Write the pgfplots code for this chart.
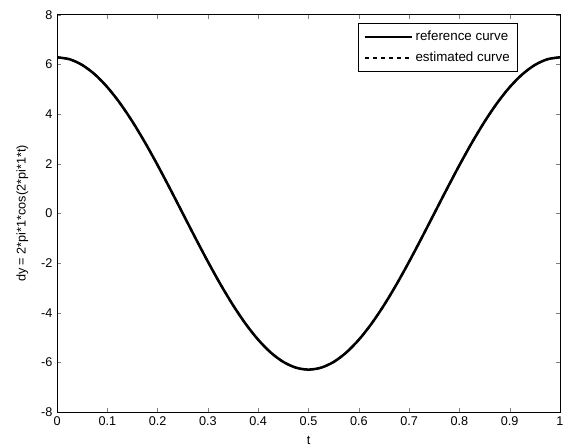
\documentclass[border=0pt]{standalone}
\usepackage{pgfplots}
\pgfplotsset{compat=1.18}
\usepackage{fontspec}
\setmainfont{Liberation Sans}
\begin{document}
\begin{tikzpicture}
\useasboundingbox (-42.75pt,-26pt) rectangle (383pt,309pt);
\begin{axis}[
  at={(0,0)}, anchor=south west,
  scale only axis,
  width=377pt, height=298pt,
  xmin=0, xmax=1, ymin=-8, ymax=8,
  xtick={0,0.1,...,1}, ytick={-8,-6,...,8},
  tick align=inside,
  major tick length=3pt,
  xticklabel style={/pgf/number format/fixed},
  /pgf/number format/assume math mode=true,
  tick label style={font=\fontsize{9.5}{11}\selectfont},
  label style={font=\fontsize{9.5}{11}\selectfont},
  xlabel={t},
  ylabel={dy = 2*pi*1*cos(2*pi*1*t)},
  xlabel style={at={(axis description cs:0.5,-0.07)}, anchor=center},
  ylabel style={at={(axis description cs:-0.069,0.5)}, anchor=center},
  axis line style={line width=0.6pt},
  legend style={at={(0.9165,0.98)}, anchor=north east, draw=black, line width=0.4pt,
    font=\fontsize{10}{12}\selectfont, cells={anchor=west}, inner sep=4pt, row sep=3pt},
  legend image code/.code={\draw[#1, line width=1.2pt] (0cm,0cm) -- (1.25cm,0cm);},
]
\addplot[black, line width=1.9pt, smooth] coordinates {
(0,6.2832)(0.025,6.2058)(0.05,5.9757)(0.075,5.5984)(0.1,5.0832)(0.125,4.4429)(0.15,3.6932)(0.175,2.8525)(0.2,1.9416)(0.225,0.9829)(0.25,0)
(0.275,-0.9829)(0.3,-1.9416)(0.325,-2.8525)(0.35,-3.6932)(0.375,-4.4429)(0.4,-5.0832)(0.425,-5.5984)(0.45,-5.9757)(0.475,-6.2058)(0.5,-6.2832)
(0.525,-6.2058)(0.55,-5.9757)(0.575,-5.5984)(0.6,-5.0832)(0.625,-4.4429)(0.65,-3.6932)(0.675,-2.8525)(0.7,-1.9416)(0.725,-0.9829)(0.75,0)
(0.775,0.9829)(0.8,1.9416)(0.825,2.8525)(0.85,3.6932)(0.875,4.4429)(0.9,5.0832)(0.925,5.5984)(0.95,5.9757)(0.975,6.2058)(1,6.2832)
};
\addlegendentry{reference curve}
\addplot[black, line width=1.5pt, dashed, smooth] coordinates {
(0,6.2832)(0.025,6.2058)(0.05,5.9757)(0.075,5.5984)(0.1,5.0832)(0.125,4.4429)(0.15,3.6932)(0.175,2.8525)(0.2,1.9416)(0.225,0.9829)(0.25,0)
(0.275,-0.9829)(0.3,-1.9416)(0.325,-2.8525)(0.35,-3.6932)(0.375,-4.4429)(0.4,-5.0832)(0.425,-5.5984)(0.45,-5.9757)(0.475,-6.2058)(0.5,-6.2832)
(0.525,-6.2058)(0.55,-5.9757)(0.575,-5.5984)(0.6,-5.0832)(0.625,-4.4429)(0.65,-3.6932)(0.675,-2.8525)(0.7,-1.9416)(0.725,-0.9829)(0.75,0)
(0.775,0.9829)(0.8,1.9416)(0.825,2.8525)(0.85,3.6932)(0.875,4.4429)(0.9,5.0832)(0.925,5.5984)(0.95,5.9757)(0.975,6.2058)(1,6.2832)
};
\addlegendentry{estimated curve}
\end{axis}
\end{tikzpicture}
\end{document}
